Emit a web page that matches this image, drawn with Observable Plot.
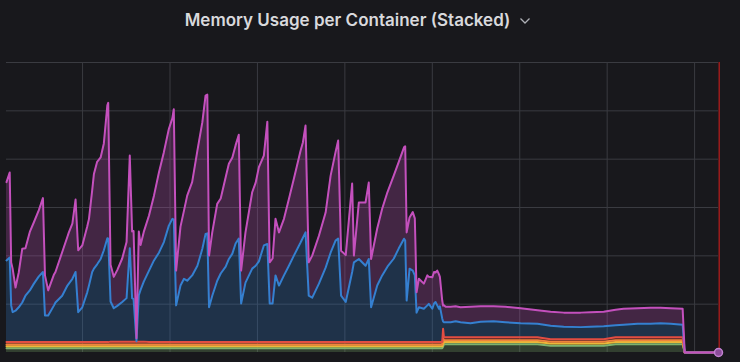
<!DOCTYPE html>
<html><head><meta charset="utf-8">
<script src="https://cdn.jsdelivr.net/npm/d3@7"></script>
<script src="https://cdn.jsdelivr.net/npm/@observablehq/plot@0.6"></script>
<style>
html,body{margin:0;padding:0;background:#18181c;width:740px;height:362px;overflow:hidden;}
#title{height:40px;display:flex;align-items:center;justify-content:center;padding-right:24px;font-family:Inter,"Noto Sans",sans-serif;font-size:17px;font-weight:600;color:#d8d9dc;}
#title svg{margin-left:9px;margin-top:2px;}
#chart svg{display:block;}
</style></head><body>
<div id="title"><span>Memory Usage per Container (Stacked)</span><svg width="12" height="8" viewBox="0 0 12 8"><polyline points="1.5,1.5 6,6 10.5,1.5" fill="none" stroke="#aeb0b6" stroke-width="1.3"/></svg></div>
<div id="chart"></div>
<script>
// time in minutes after 13:30 (grid every 30 minutes)
const times = [3.9,5.0,5.5,6.0,7.0,8.1,9.3,10.4,11.9,13.3,
15.0,16.4,17.1,18.2,20.2,20.7,23.0,24.8,25.3,26.5,
27.6,28.5,29.9,31.6,32.2,33.3,33.9,35.0,36.2,37.3,
38.5,38.8,39.6,40.7,41.9,43.6,45.1,46.2,47.0,47.5,
48.5,49.3,49.9,51.0,52.8,54.5,56.2,57.9,59.6,60.8,
61.3,62.1,63.6,64.8,65.9,67.6,69.4,71.1,72.2,72.8,
73.4,74.5,76.2,77.4,79.1,80.2,81.4,82.5,83.6,84.4,
85.9,88.2,89.4,90.5,92.2,93.4,94.2,95.2,96.2,97.4,
99.1,100.8,102.5,104.8,105.6,106.5,107.6,108.8,111.1,113.4,
115.1,116.8,117.7,118.7,120.3,122.5,123.1,124.8,127.1,128.2,
129.0,131.1,132.8,134.6,136.8,138.5,140.3,140.7,141.2,142.2,
143.3,144.0,144.6,145.4,147.1,148.3,148.8,150.0,150.6,151.1,
151.7,152.3,152.6,153.4,153.7,154.0,154.6,156.3,158.0,159.7,
163.1,166.6,171.0,175.1,180.3,186.1,190.6,195.1,200.9,204.3,
208.8,212.9,215.6,220.4,224.9,228.3,231.8,235.9,236.6,248.2];

const container1 = [0.09,0.09,0.09,0.09,0.09,0.09,0.09,0.09,0.09,0.09,
0.09,0.09,0.09,0.09,0.09,0.09,0.09,0.09,0.09,0.09,
0.09,0.09,0.09,0.09,0.09,0.09,0.09,0.09,0.09,0.09,
0.09,0.09,0.09,0.09,0.09,0.09,0.09,0.09,0.09,0.09,
0.09,0.09,0.09,0.09,0.09,0.09,0.09,0.09,0.09,0.09,
0.09,0.09,0.09,0.09,0.09,0.09,0.09,0.09,0.09,0.09,
0.09,0.09,0.09,0.09,0.09,0.09,0.09,0.09,0.09,0.09,
0.09,0.09,0.09,0.09,0.09,0.09,0.09,0.09,0.09,0.09,
0.09,0.09,0.09,0.09,0.09,0.09,0.09,0.09,0.09,0.09,
0.09,0.09,0.09,0.09,0.09,0.09,0.09,0.09,0.09,0.09,
0.09,0.09,0.09,0.09,0.09,0.09,0.09,0.09,0.09,0.09,
0.09,0.09,0.09,0.09,0.09,0.09,0.09,0.09,0.09,0.09,
0.09,0.09,0.09,0.09,0.12,0.17,0.17,0.17,0.17,0.17,
0.17,0.17,0.17,0.17,0.17,0.17,0.14,0.14,0.14,0.14,
0.14,0.17,0.17,0.17,0.17,0.17,0.17,0.17,0,0];

const container2 = [0.04,0.04,0.04,0.04,0.04,0.04,0.04,0.04,0.04,0.04,
0.04,0.04,0.04,0.04,0.04,0.04,0.04,0.04,0.04,0.04,
0.04,0.04,0.04,0.04,0.04,0.04,0.04,0.04,0.04,0.04,
0.04,0.04,0.04,0.04,0.04,0.04,0.04,0.04,0.04,0.04,
0.04,0.04,0.04,0.04,0.04,0.04,0.04,0.04,0.04,0.04,
0.04,0.04,0.04,0.04,0.04,0.04,0.04,0.04,0.04,0.04,
0.04,0.04,0.04,0.04,0.04,0.04,0.04,0.04,0.04,0.04,
0.04,0.04,0.04,0.04,0.04,0.04,0.04,0.04,0.04,0.04,
0.04,0.04,0.04,0.04,0.04,0.04,0.04,0.04,0.04,0.04,
0.04,0.04,0.04,0.04,0.04,0.04,0.04,0.04,0.04,0.04,
0.04,0.04,0.04,0.04,0.04,0.04,0.04,0.04,0.04,0.04,
0.04,0.04,0.04,0.04,0.04,0.04,0.04,0.04,0.04,0.04,
0.04,0.04,0.04,0.04,0.05,0.045,0.045,0.045,0.045,0.045,
0.045,0.045,0.045,0.045,0.045,0.045,0.045,0.045,0.045,0.045,
0.045,0.045,0.045,0.045,0.045,0.045,0.045,0.045,0,0];

const container3 = [0.035,0.035,0.035,0.035,0.035,0.035,0.035,0.035,0.035,0.035,
0.035,0.035,0.035,0.035,0.035,0.035,0.035,0.035,0.035,0.035,
0.035,0.035,0.035,0.035,0.035,0.035,0.035,0.035,0.035,0.035,
0.035,0.035,0.035,0.035,0.035,0.035,0.035,0.035,0.035,0.035,
0.035,0.035,0.035,0.035,0.035,0.035,0.035,0.035,0.035,0.035,
0.035,0.035,0.035,0.035,0.035,0.035,0.035,0.035,0.035,0.035,
0.035,0.035,0.035,0.035,0.035,0.035,0.035,0.035,0.035,0.035,
0.035,0.035,0.035,0.035,0.035,0.035,0.035,0.035,0.035,0.035,
0.035,0.035,0.035,0.035,0.035,0.035,0.035,0.035,0.035,0.035,
0.035,0.035,0.035,0.035,0.035,0.035,0.035,0.035,0.035,0.035,
0.035,0.035,0.035,0.035,0.035,0.035,0.035,0.035,0.035,0.035,
0.035,0.035,0.035,0.035,0.035,0.035,0.035,0.035,0.035,0.035,
0.035,0.035,0.035,0.035,0.12,0.04,0.04,0.04,0.04,0.04,
0.04,0.04,0.04,0.04,0.04,0.04,0.04,0.04,0.04,0.04,
0.04,0.04,0.04,0.04,0.04,0.04,0.04,0.04,0,0];

const container4 = [0.05,0.05,0.05,0.05,0.05,0.05,0.05,0.05,0.05,0.05,
0.05,0.05,0.05,0.05,0.05,0.05,0.05,0.05,0.05,0.05,
0.05,0.05,0.05,0.05,0.05,0.05,0.05,0.05,0.05,0.05,
0.05,0.05,0.06,0.06,0.06,0.06,0.06,0.06,0.06,0.06,
0.06,0.06,0.06,0.06,0.05,0.05,0.05,0.05,0.05,0.05,
0.05,0.05,0.05,0.05,0.05,0.05,0.05,0.05,0.05,0.05,
0.05,0.05,0.05,0.05,0.05,0.05,0.05,0.05,0.05,0.05,
0.05,0.05,0.05,0.05,0.05,0.05,0.05,0.05,0.05,0.05,
0.05,0.05,0.05,0.05,0.05,0.05,0.05,0.05,0.05,0.05,
0.05,0.05,0.05,0.05,0.05,0.05,0.05,0.05,0.05,0.05,
0.05,0.05,0.05,0.05,0.05,0.05,0.05,0.05,0.05,0.05,
0.05,0.05,0.05,0.05,0.05,0.05,0.05,0.05,0.05,0.05,
0.05,0.05,0.05,0.05,0.2,0.06,0.06,0.06,0.06,0.06,
0.06,0.06,0.06,0.06,0.06,0.06,0.05,0.05,0.05,0.05,
0.05,0.06,0.06,0.06,0.06,0.06,0.06,0.06,0,0];

const container5 = [1.69,1.75,0.76,0.62,0.65,0.72,0.82,0.96,1.07,1.21,
1.36,1.45,0.55,0.55,0.76,0.82,0.96,1.17,1.21,1.31,
1.45,0.62,0.72,1.03,1.17,1.45,1.52,1.61,1.72,1.90,
2.15,2.14,0.83,0.69,0.74,0.82,0.90,1.93,0.90,0.88,
0.01,0.96,1.07,1.24,1.48,1.69,1.85,2.07,2.41,2.55,
2.54,0.76,1.17,1.31,1.27,1.38,1.58,1.93,2.24,2.25,
0.72,0.96,1.27,1.42,1.56,1.72,1.83,2.04,2.14,0.80,
1.23,1.52,1.58,1.67,2.00,2.03,0.80,0.80,1.38,1.17,
1.38,1.58,1.79,2.06,2.16,2.27,0.96,0.92,1.21,1.54,
1.85,2.10,2.14,0.96,0.83,1.45,1.65,1.72,1.58,1.72,
0.72,1.17,1.38,1.56,1.73,1.94,2.14,2.10,0.86,1.52,
1.48,1.38,0.61,0.72,0.69,0.76,0.79,0.69,0.80,0.83,
0.76,0.69,0.74,0.49,0.15,0.31,0.31,0.31,0.33,0.31,
0.29,0.32,0.33,0.31,0.29,0.28,0.28,0.26,0.25,0.26,
0.27,0.25,0.26,0.28,0.28,0.29,0.28,0.26,0,0];

const container6 = [1.62,1.76,0.89,0.90,0.48,0.72,1.11,0.98,1.21,1.27,
1.37,1.53,0.83,0.52,0.64,0.63,0.90,1.01,1.06,1.14,
1.50,1.28,1.28,1.36,1.38,1.69,1.96,2.12,2.10,2.21,
2.75,2.81,0.76,0.65,0.74,0.90,1.16,1.92,1.38,1.41,
0.06,1.32,0.93,1.03,1.14,1.34,1.66,1.86,2.00,2.08,
2.28,0.72,1.22,1.41,1.76,1.93,2.38,2.62,2.86,2.87,
1.07,1.31,1.59,1.55,1.85,1.97,1.99,2.03,2.15,0.68,
1.04,1.58,1.72,1.95,1.86,2.53,0.85,0.93,1.17,1.10,
1.17,1.38,1.59,1.90,1.97,2.21,0.69,0.87,0.99,1.14,
1.59,1.83,2.03,0.93,0.97,1.83,0.14,1.17,1.31,1.58,
1.00,1.18,1.38,1.54,1.72,1.79,1.89,1.95,1.41,1.06,
1.21,1.18,0.42,0.59,0.52,0.62,0.56,0.65,0.65,0.61,
0.72,0.71,0.61,0.37,0.33,0.35,0.32,0.32,0.31,0.31,
0.34,0.32,0.31,0.32,0.31,0.28,0.29,0.29,0.30,0.30,
0.30,0.32,0.33,0.32,0.33,0.32,0.32,0.33,0,0];

const seriesNames = ["container 1","container 2","container 3","container 4","container 5","container 6"];
const seriesColors = ["#7EB26D","#EAB839","#EF843C","#E24D42","#3580d0","#c450bd"];
const xGridTicks = [30,60,90,120,150,180,210,240];
const yGridTicks = [1,2,3,4,5,6];
const xStart = 3.9, xEnd = 248.2, nowMinute = 248.45;

const seriesValues = [container1, container2, container3, container4, container5, container6];
seriesValues.forEach((arr, i) => { if (arr.length !== times.length) throw new Error(seriesNames[i] + " length " + arr.length + " vs " + times.length); });

const rows = [];
seriesNames.forEach((s, i) => times.forEach((t, j) => rows.push({series: s, t, v: seriesValues[i][j]})));
const hover = [{t: times[times.length - 1], v: 0}];

const gridColor = "#3a3b41";
const chart = Plot.plot({
  width: 740, height: 322,
  marginTop: 22, marginBottom: 10, marginLeft: 6, marginRight: 22,
  style: {background: "transparent", overflow: "visible"},
  x: {domain: [xStart, xEnd], axis: null},
  y: {domain: [0, 6], axis: null},
  color: {type: "ordinal", domain: seriesNames, range: seriesColors},
  marks: [
    Plot.ruleY(yGridTicks, {stroke: gridColor, strokeWidth: 1}),
    Plot.ruleX(xGridTicks, {stroke: gridColor, strokeWidth: 1}),
    Plot.areaY(rows, {x: "t", y: "v", z: "series", fill: "series", fillOpacity: 0.25}),
    Plot.lineY(rows, Plot.stackY2({x: "t", y: "v", z: "series", stroke: "series", strokeWidth: 2})),
    Plot.ruleX([nowMinute], {stroke: "#9b1c1c", strokeWidth: 1.5}),
    Plot.dot(hover, {x: "t", y: "v", r: 4, fill: "#8a4c99", stroke: "#c283d2", strokeWidth: 1.5})
  ]
});
document.getElementById("chart").appendChild(chart);
</script>
</body></html>
